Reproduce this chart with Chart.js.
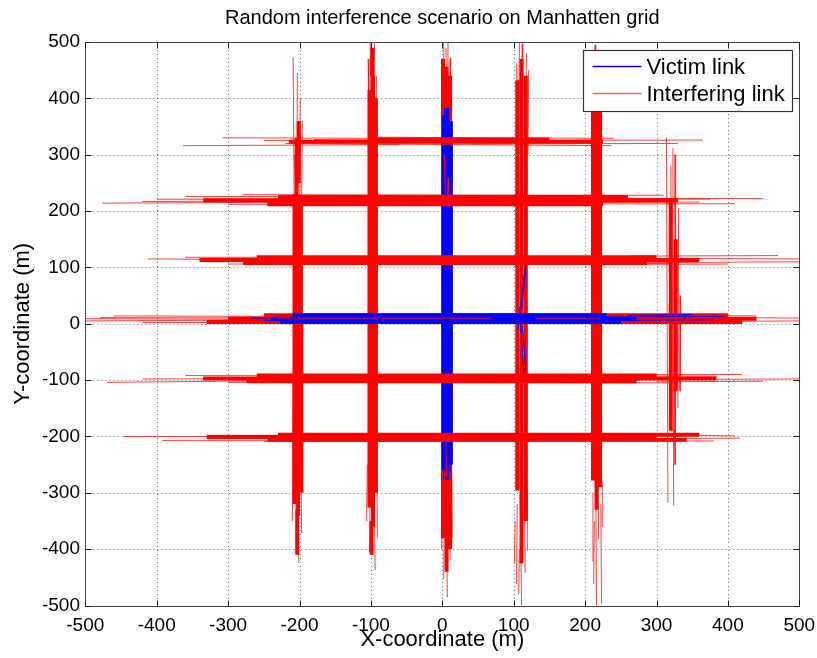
<!DOCTYPE html>
<html>
<head>
<meta charset="utf-8">
<script src="https://cdn.jsdelivr.net/npm/chart.js@4.4.1/dist/chart.umd.min.js"></script>
<style>
  html, body { margin: 0; padding: 0; background: #fff; }
  #wrap { width: 817px; height: 658px; position: relative; }
</style>
</head>
<body>
<div id="wrap"><canvas id="gridChart"></canvas></div>
<script>
// axis ticks (both axes)
const tickValues = [-500, -400, -300, -200, -100, 0, 100, 200, 300, 400, 500];

// every trace is [x1, y1, x2, y2] in metres

// interfering links - bundles along the vertical streets
const redBandV = [
  [-207, -320, -207, 230], [-202, -340, -202, 215], [-198, -300, -198, 225],
  [-204, 225, -204, 330], [-201, 250, -201, 360], [-203, -410, -203, -330],
  [-102, -326, -102, 415], [-97, -360, -97, 440], [-93, -300, -93, 400], [-99, -410, -99, -350], [-98, 440, -98, 490],
  [1, -380, 1, 470], [6, -440, 6, 456], [11, -400, 11, 440],
  [105, -296, 105, 432], [111, -425, 111, 470], [117, -350, 117, 440],
  [211, -278, 211, 379], [216, -330, 216, 430], [221, -290, 221, 400],
  [320, -190, 320, 220], [327, -120, 327, 150]
];
// interfering links - single links along vertical streets
const redThinV = [
  [-209, 473, -207, 150], [-203, 445, -204, 200], [-199, 400, -200, 120], [-196, 360, -197, 230], [-207, 300, -206, 260],
  [-201, -424, -203, -150], [-206, -405, -205, -200], [-197, -372, -198, -250], [-210, -350, -209, -100], [-194, -300, -195, 0],
  [-101, 500, -99, 300], [-95, 498, -96, 330], [-104, 470, -103, 380], [-92, 440, -93, 360], [-98, 480, -97, 250],
  [-94, -437, -96, -250], [-102, -405, -101, -300], [-91, -380, -92, -200], [-106, -350, -105, -250],
  [2, 500, 3, 300], [8, 498, 7, 330], [12, 472, 11, 380], [-1, 440, 0, 360], [5, 490, 6, 400],
  [7, -486, 6, -300], [2, -452, 3, -280], [11, -420, 10, -290], [-1, -400, 0, -250], [14, -380, 13, -260],
  [108, 500, 107, 300], [113, 497, 112, 350], [118, 480, 117, 400], [104, 462, 105, 380], [121, 450, 120, 300],
  [111, -500, 109, -300], [104, -462, 105, -320], [116, -442, 115, -300], [101, -425, 102, -350], [120, -402, 119, -280], [107, -480, 108, -400],
  [215, 495, 214, 300], [219, 470, 218, 350], [212, 442, 213, 380], [222, 420, 221, 300],
  [216, -500, 215, -300], [223, -497, 222, -320], [210, -420, 211, -300], [219, -382, 218, -260], [212, -462, 213, -350], [225, -360, 224, -280],
  [314, 330, 316, -318], [323, 312, 324, -322], [327, 300, 326, -250], [320, 280, 321, 120], [331, 205, 330, -150],
  [318, 150, 319, -100], [325, 110, 326, -200], [334, 50, 333, -120]
];

// interfering links - street at y = 8 (lies under the victim links)
const redBandH0 = [[-330, 3, 420, 3], [-300, 9, 440, 9], [-250, 15, 400, 15]];
const redThinH0 = [
  [-500, 5, -200, 7], [-480, 11, -150, 10], [-460, 14, -250, 13], [-420, 2, 100, 3],
  [300, 12, 500, 10], [350, 4, 500, 5], [250, 15, 440, 14], [-500, 9, -300, 8]
];

// interfering links - the other horizontal streets
const redBandH = [
  [-215, 323, 225, 323], [-100, 327, 150, 327],
  [-245, 212, 225, 212], [-335, 219, 330, 219], [-230, 225, 260, 225],
  [-279, 108, 287, 108], [-340, 113, 360, 113], [-260, 118, 300, 118],
  [-274, -102, 272, -102], [-335, -97, 384, -97], [-260, -92, 300, -92],
  [-245, -206, 342, -206], [-330, -201, 300, -201], [-230, -197, 360, -197]
];
const redThinH = [
  [-363, 316, -60, 318], [-308, 330, 120, 328], [-250, 325, 365, 326], [-220, 320, 237, 316],
  [-100, 331, 240, 329], [40, 319, 330, 320], [-180, 327, 200, 322],
  [-476, 214, -150, 216], [-400, 221, 375, 221], [-360, 226, 260, 224], [-300, 212, 410, 213],
  [-420, 217, 100, 219], [150, 223, 449, 222], [-280, 229, 310, 228], [200, 215, 360, 216],
  [-412, 115, -100, 113], [-330, 110, 150, 112], [-360, 118, 300, 117], [230, 108, 500, 110],
  [250, 116, 500, 115], [260, 120, 470, 121], [180, 105, 400, 106], [-300, 106, 320, 107],
  [-470, -104, -150, -100], [-420, -98, 200, -96], [-360, -92, 384, -93], [250, -99, 500, -98],
  [300, -103, 450, -102], [-300, -104, 330, -105], [150, -91, 420, -90],
  [-447, -200, -100, -201], [-392, -207, 100, -206], [-330, -198, 300, -198], [250, -204, 417, -203],
  [-250, -209, 380, -208], [300, -197, 410, -199]
];
// interfering links drawn over the victim links
const redOver = [[-230, 10, 70, 10], [130, 10, 220, 10], [3, 300, 4, 230], [9, 260, 8, 220], [5, -210, 6, -270]];

// victim links
const victimBand = [
  [2, -260, 2, 370], [7, -277, 7, 383], [12, -250, 12, 360],
  [-227, 3, 250, 3], [-240, 9, 272, 9], [-210, 15, 230, 15]
];
const victimThin = [
  [-269, 10, -200, 11], [-250, 6, 0, 5], [200, 12, 393, 13], [250, 6, 380, 7], [260, 15, 350, 16],
  [3, 383, 4, 200], [10, 360, 9, 150], [1, -277, 2, -100], [12, -262, 11, -50],
  [118, 113, 111, 25], [116, 100, 106, -10], [108, 30, 115, -100], [112, -5, 117, -80]
];

const legendItems = ['Victim link', 'Interfering link'];
const legendColors = ['#0000ff', 'rgba(255,40,40,0.75)'];

const RED = '#ff0000';
const RED_THIN = 'rgba(255,0,0,0.75)';
const BLUE = '#0000ff';

Chart.defaults.font.family = '"Liberation Sans", Arial, Helvetica, sans-serif';
Chart.defaults.color = '#000';

function toPoints(list) {
  const pts = [];
  list.forEach(s => {
    pts.push({x: s[0], y: s[1]}, {x: s[2], y: s[3]}, {x: s[2], y: null});
  });
  return pts;
}

// lower order is drawn on top
function trace(label, list, color, width, order) {
  return {
    label: label,
    data: toPoints(list),
    showLine: true,
    borderColor: color,
    backgroundColor: color,
    borderWidth: width,
    borderCapStyle: 'butt',
    pointRadius: 0,
    pointHoverRadius: 0,
    spanGaps: false,
    fill: false,
    order: order
  };
}

const frame = {
  id: 'frame',
  beforeDatasetsDraw(chart) {
    const {ctx, chartArea: a, scales: {x, y}} = chart;
    ctx.save();
    ctx.strokeStyle = 'rgba(0,0,0,0.55)';
    ctx.lineWidth = 1;
    ctx.setLineDash([1, 3]);
    tickValues.forEach(v => {
      const px = Math.round(x.getPixelForValue(v)) + 0.5;
      ctx.beginPath(); ctx.moveTo(px, a.top); ctx.lineTo(px, a.bottom); ctx.stroke();
      const py = Math.round(y.getPixelForValue(v)) + 0.5;
      ctx.beginPath(); ctx.moveTo(a.left, py); ctx.lineTo(a.right, py); ctx.stroke();
    });
    ctx.restore();
  },
  afterDatasetsDraw(chart) {
    const {ctx, chartArea: a, scales: {x, y}} = chart;
    ctx.save();
    ctx.strokeStyle = '#444';
    ctx.lineWidth = 1;
    const L = Math.round(a.left) + 0.5, R = Math.round(a.right) + 0.5;
    const T = Math.round(a.top) + 0.5, B = Math.round(a.bottom) + 0.5;
    ctx.strokeRect(L, T, R - L, B - T);
    ctx.strokeStyle = '#222';
    tickValues.forEach(v => {
      const px = Math.round(x.getPixelForValue(v)) + 0.5;
      ctx.beginPath();
      ctx.moveTo(px, B); ctx.lineTo(px, B - 6);
      ctx.moveTo(px, T); ctx.lineTo(px, T + 6);
      ctx.stroke();
      const py = Math.round(y.getPixelForValue(v)) + 0.5;
      ctx.beginPath();
      ctx.moveTo(L, py); ctx.lineTo(L + 6, py);
      ctx.moveTo(R, py); ctx.lineTo(R - 6, py);
      ctx.stroke();
    });
    ctx.restore();
  },
  afterDraw(chart) {
    const {ctx, chartArea: a} = chart;
    const w = 209, h = 61;
    const x0 = Math.round(a.right - 7 - w) + 0.5, y0 = Math.round(a.top + 8) + 0.5;
    ctx.save();
    ctx.fillStyle = '#fff';
    ctx.fillRect(x0, y0, w, h);
    ctx.strokeStyle = '#333';
    ctx.lineWidth = 1.2;
    ctx.strokeRect(x0, y0, w, h);
    ctx.font = '22px "Liberation Sans", Arial, sans-serif';
    ctx.textBaseline = 'middle';
    ctx.fillStyle = '#000';
    legendItems.forEach((txt, i) => {
      const ly = y0 + 16 + i * 27;
      ctx.strokeStyle = legendColors[i];
      ctx.lineWidth = 1.5;
      ctx.beginPath(); ctx.moveTo(x0 + 9, ly); ctx.lineTo(x0 + 58, ly); ctx.stroke();
      ctx.fillText(txt, x0 + 63, ly + 1);
    });
    ctx.restore();
  }
};

new Chart(document.getElementById('gridChart').getContext('2d'), {
  type: 'scatter',
  data: {
    datasets: [
      trace('Interfering link', redBandV, RED, 4, 10),
      trace('Interfering link', redThinV, RED_THIN, 1, 9),
      trace('Interfering link', redBandH0, RED, 4, 8),
      trace('Interfering link', redThinH0, RED_THIN, 1, 7),
      trace('Victim link', victimBand, BLUE, 4, 6),
      trace('Victim link', victimThin, BLUE, 1, 5),
      trace('Interfering link', redBandH, RED, 4, 4),
      trace('Interfering link', redThinH, RED_THIN, 1, 3),
      trace('Interfering link', redOver, RED, 1, 1)
    ]
  },
  options: {
    responsive: true,
    maintainAspectRatio: false,
    animation: false,
    events: [],
    layout: { padding: { left: 0, right: 17.7, top: 0, bottom: 0 } },
    plugins: {
      legend: { display: false },
      tooltip: { enabled: false },
      title: {
        display: true,
        fullSize: false,
        text: 'Random interference scenario on Manhatten grid',
        color: '#000',
        font: { size: 20, weight: 'normal' },
        padding: { top: 6.8, bottom: 11.2 }
      }
    },
    scales: {
      x: {
        type: 'linear',
        min: -500,
        max: 500,
        afterBuildTicks: s => { s.ticks = tickValues.map(v => ({value: v})); },
        afterFit: s => { s.height = 52.5; },
        grid: { display: false, drawTicks: false },
        border: { display: false },
        // tall line box puts the labels below the axis without widening the side padding
        ticks: { font: { size: 19, lineHeight: 2.18 }, color: '#000', padding: 0, maxRotation: 0, autoSkip: false },
        title: { display: true, text: 'X-coordinate (m)', color: '#000', font: { size: 22 }, padding: 5.3 }
      },
      y: {
        type: 'linear',
        min: -500,
        max: 500,
        afterBuildTicks: s => { s.ticks = tickValues.map(v => ({value: v})); },
        afterFit: s => { s.width = 85.3; },
        grid: { display: false, drawTicks: false },
        border: { display: false },
        ticks: { font: { size: 19 }, color: '#000', padding: 5.3, autoSkip: false },
        title: { display: true, text: 'Y-coordinate (m)', color: '#000', font: { size: 22 }, padding: 10 }
      }
    }
  },
  plugins: [frame]
});
</script>
</body>
</html>
